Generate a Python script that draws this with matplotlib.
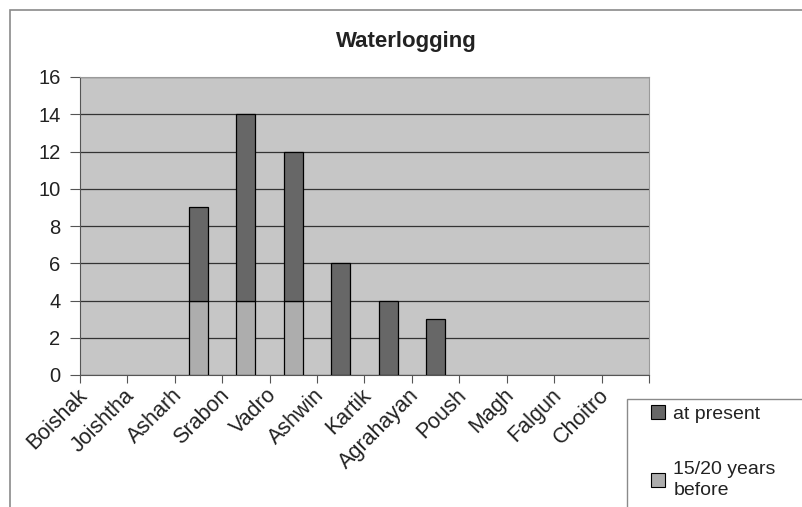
import numpy as np
import matplotlib.pyplot as plt
from matplotlib.patches import Rectangle, Patch

months = ['Boishak', 'Joishtha', 'Asharh', 'Srabon', 'Vadro', 'Ashwin',
          'Kartik', 'Agrahayan', 'Poush', 'Magh', 'Falgun', 'Choitro']
before = [0, 0, 4, 4, 4, 0, 0, 0, 0, 0, 0, 0]
present = [0, 0, 5, 10, 8, 6, 4, 3, 0, 0, 0, 0]
series_names = ['at present', '15/20 years\nbefore']

plt.rcParams['font.family'] = ['Liberation Sans', 'DejaVu Sans']

dark = '#676767'
light = '#adadad'
bg = '#c6c6c6'
txt = '#222222'

fig = plt.figure(figsize=(8.03, 5.07), dpi=100)
fig.patch.set_facecolor('white')

# outer chart border
fig.patches.append(Rectangle((10 / 803, -0.1), 1.0, (507 - 10) / 507 + 0.1,
                             transform=fig.transFigure, fill=False,
                             edgecolor='#8a8a8a', lw=1.2))

ax = fig.add_axes([80 / 803, (507 - 375) / 507, 569 / 803, 298 / 507])
ax.set_facecolor(bg)

x = np.arange(len(months))
ax.bar(x, before, width=0.4, color=light, edgecolor='black', lw=0.9, zorder=3)
ax.bar(x, present, width=0.4, bottom=before, color=dark, edgecolor='black',
       lw=0.9, zorder=3)
for p in ax.patches:
    if p.get_height() == 0:
        p.set_visible(False)

ax.set_xlim(-0.5, len(months) - 0.5)
ax.set_ylim(0, 16)
ax.set_yticks(range(0, 17, 2))
ax.yaxis.grid(True, color='#333333', lw=0.9, zorder=1)
ax.set_axisbelow(True)

# category boundary ticks, labels shifted left like the Excel original
ax.set_xticks(np.arange(len(months) + 1) - 0.5)
ax.set_xticklabels([])
ax.set_xticks(x - 0.26, minor=True)
ax.set_xticklabels(months, minor=True, rotation=45, ha='right',
                   fontsize=15.5, color=txt)
ax.tick_params(axis='x', which='minor', length=0, pad=7)
ax.tick_params(axis='x', which='major', length=6, color='#555555', direction='out')
ax.tick_params(axis='y', length=7, color='#555555', labelsize=14.5,
               labelcolor=txt, pad=7)

for s in ['top', 'right']:
    ax.spines[s].set_color('#9a9a9a')
for s in ['left', 'bottom']:
    ax.spines[s].set_color('#555555')

fig.text(406 / 803, 1 - 41 / 507, 'Waterlogging', ha='center', va='center',
         fontsize=16, fontweight='bold', color=txt)

# legend box
fig.patches.append(Rectangle((627 / 803, -0.1), 0.3, (507 - 399) / 507 + 0.1,
                             transform=fig.transFigure, facecolor='white',
                             edgecolor='#8a8a8a', lw=1.0, zorder=5))
handles = [Patch(facecolor=dark, edgecolor='black', lw=0.8),
           Patch(facecolor=light, edgecolor='black', lw=0.8)]
leg = fig.legend(handles, series_names, loc='upper left',
                 bbox_to_anchor=(651 / 803, 1 - 405 / 507), frameon=False,
                 fontsize=14, handlelength=0.7, handleheight=0.7,
                 handletextpad=0.45, labelspacing=2.0, borderpad=0,
                 borderaxespad=0)
for t in leg.get_texts():
    t.set_color(txt)
    t.set_linespacing(1.3)
leg.set_zorder(6)

fig.savefig('out.png', dpi=100)
